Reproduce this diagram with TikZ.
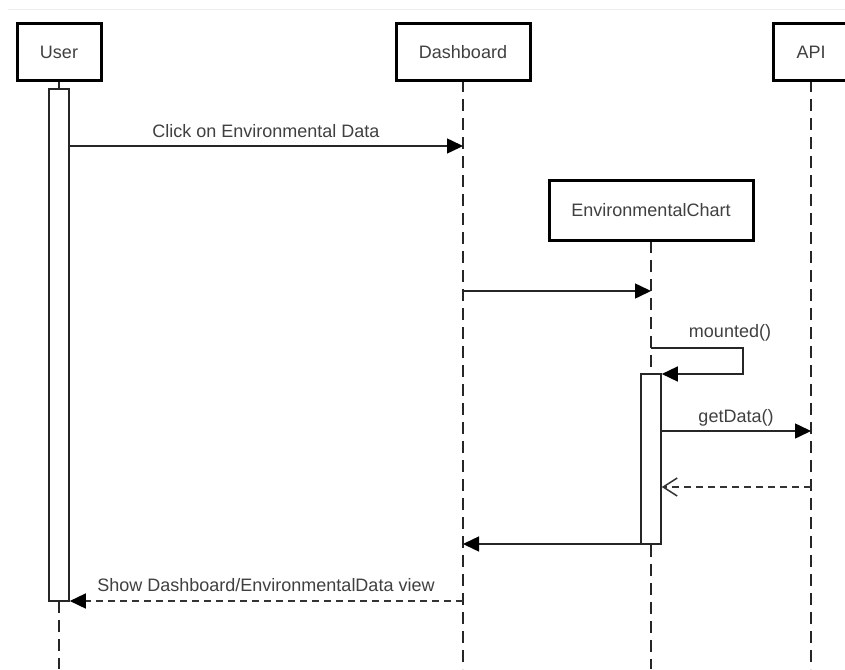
\documentclass[tikz,border=0pt]{standalone}
\usepackage{fontspec}
\setmainfont{Liberation Sans}
\usetikzlibrary{arrows.meta}
\begin{document}
\begin{tikzpicture}[x=1pt,y=-1pt,
  every node/.style={font=\fontsize{18}{22}\selectfont, text=black!75},
  actor/.style={draw=black, line width=3pt, fill=white, minimum height=56pt, inner sep=0pt},
  actbar/.style={draw=black!85, line width=1.6pt, fill=white, minimum width=20pt, inner sep=0pt},
  lifeline/.style={draw=black!85, line width=1.8pt, dash pattern=on 12pt off 7pt},
  msg/.style={draw=black!85, line width=1.5pt, -{Triangle[length=16pt,width=15pt,color=black]}},
  reply/.style={draw=black!80, line width=1.5pt, dash pattern=on 7pt off 5pt},
  lbl/.style={inner sep=0pt}]
\useasboundingbox (0,0) rectangle (845,669);
\fill[white] (0,0) rectangle (845,669);
\draw[black!7, line width=1pt] (8,10) -- (845,10);

% message rows
\coordinate (m1) at (0,146);
\coordinate (m2) at (0,291);
\coordinate (m3) at (0,348);
\coordinate (m4) at (0,374);
\coordinate (m5) at (0,431);
\coordinate (m6) at (0,487);
\coordinate (m7) at (0,544);
\coordinate (m8) at (0,601);
\coordinate (bottom) at (0,669);

% lifelines
\coordinate (userX) at (59,0);
\coordinate (dashX) at (463,0);
\coordinate (chartX) at (651,0);
\coordinate (apiX) at (811,0);
\coordinate (userTop) at (59,80);
\coordinate (dashTop) at (463,80);
\coordinate (apiTop) at (811,80);
\coordinate (chartTop) at (651,241);

\draw[lifeline] (dashTop) -- (dashX |- bottom);
\draw[lifeline] (apiTop) -- (apiX |- bottom);
\draw[lifeline] (chartTop) -- (chartX |- bottom);
\draw[lifeline] (userX |- m8) -- (userX |- bottom);
\draw[black!85, line width=1.6pt] (userTop) -- (59,90);

% activation bars
\node[actbar, minimum height=512pt] (uact) at (59,345) {};
\node[actbar, minimum height=170pt] (cact) at (651,459) {};

% participants
\node[actor, minimum width=84pt] (user) at (59,52) {User};
\node[actor, minimum width=134pt] (dash) at (463,52) {Dashboard};
\node[actor, minimum width=76pt] (api) at (811,52) {API};
\node[actor, minimum width=204pt, minimum height=60pt] (chart) at (651,210.5) {EnvironmentalChart};

% messages
\draw[msg] (uact.east |- m1) -- (dashX |- m1);
\node[lbl] (l1) at (266,131) {Click on Environmental Data};

\draw[msg] (dashX |- m2) -- (chartX |- m2);

\coordinate (selfR) at (743,0);
\draw[msg] (chartX |- m3) -- (selfR |- m3) -- (selfR |- m4) -- (cact.east |- m4);
\node[lbl] (l3) at (730,333) {mounted()};

\draw[msg] (cact.east |- m5) -- (apiX |- m5);
\node[lbl] (l5) at (736,418) {getData()};

\draw[reply, -{Straight Barb[length=14pt,width=18pt]}] (apiX |- m6) -- (cact.east |- m6);

\draw[msg] (cact.west |- m7) -- (dashX |- m7);

\draw[reply, -{Triangle[length=16pt,width=15pt,color=black]}] (dashX |- m8) -- (uact.east |- m8);
\node[lbl] (l8) at (266,585) {Show Dashboard/EnvironmentalData view};
\end{tikzpicture}
\end{document}
